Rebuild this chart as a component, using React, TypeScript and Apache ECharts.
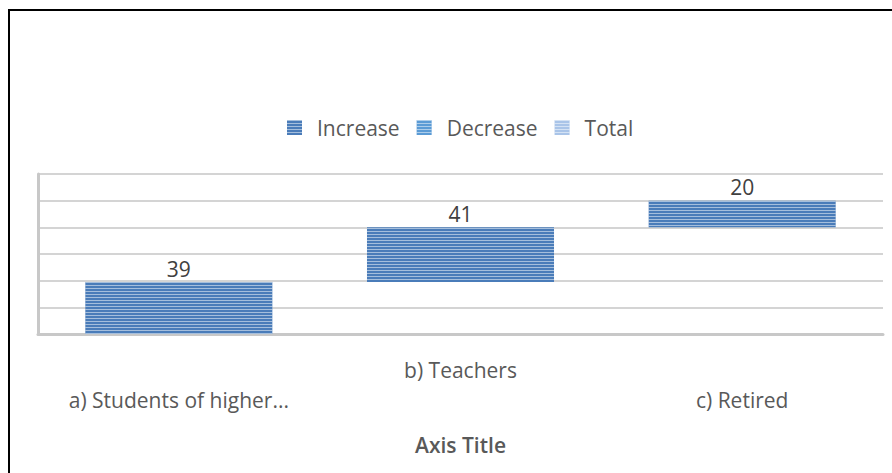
import React, { useEffect, useRef } from "react";
import * as echarts from "echarts";

const categories = ["a) Students of higher...", "b) Teachers", "c) Retired"];
const increaseValues = [39, 41, 20];
const decreaseValues: (number | string)[] = ["-", "-", "-"];
const totalValues: (number | string)[] = ["-", "-", "-"];
const legendNames = ["Increase", "Decrease", "Total"];

const FONT = "Open Sans";
const FS = 21;
const TEXT = "#595959";

function stripes(color: string) {
  return {
    symbol: "rect",
    symbolSize: 1,
    dashArrayX: [1, 0],
    dashArrayY: [1, 2],
    rotation: 0,
    color,
  };
}

export default function App() {
  const ref = useRef<HTMLDivElement>(null);
  useEffect(() => {
    if (!ref.current) return;
    const chart = echarts.init(ref.current, undefined, { renderer: "svg" });
    // waterfall base: cumulative sum of previous increases
    const base: number[] = [];
    let acc = 0;
    increaseValues.forEach((v) => {
      base.push(acc);
      acc += v;
    });
    chart.setOption({
      animation: false,
      aria: { enabled: true, decal: { show: true } },
      textStyle: { fontFamily: FONT },
      legend: {
        data: legendNames,
        left: 282,
        top: 112,
        itemWidth: 15,
        itemHeight: 15,
        itemGap: 17,
        icon: "rect",
        textStyle: { fontFamily: FONT, fontSize: FS, color: TEXT, padding: [0, 0, 0, 10] },
      },
      grid: { left: 38, right: 9, top: 174, bottom: 139, containLabel: false },
      xAxis: {
        type: "category",
        data: categories,
        axisLine: { show: true, lineStyle: { color: "#c8c8c8", width: 3 } },
        axisTick: { show: false },
        axisLabel: {
          margin: 26,
          interval: 0,
          formatter: (v: string, i: number) => (i === 1 ? `{hi|${v}}` : `{lo|${v}}`),
          rich: {
            hi: { fontFamily: FONT, fontSize: FS, color: TEXT, lineHeight: 20 },
            lo: { fontFamily: FONT, fontSize: FS, color: TEXT, lineHeight: 80 },
          },
        },
        name: "Axis Title",
        nameLocation: "middle",
        nameGap: 100,
        nameTextStyle: { fontFamily: FONT, fontSize: FS, color: TEXT, fontWeight: 600 },
      },
      yAxis: {
        type: "value",
        min: 0,
        max: 120,
        interval: 20,
        axisLabel: { show: false },
        axisTick: { show: false },
        axisLine: { show: true, lineStyle: { color: "#c8c8c8", width: 3 } },
        splitLine: { show: true, lineStyle: { color: "#c6c6c6", width: 1.5 } },
      },
      graphic: [
        {
          type: "rect",
          shape: { x: 9, y: 10, width: 1000, height: 1000 },
          style: { fill: "none", stroke: "#000", lineWidth: 2 },
          z: 100,
        },
      ],
      series: [
        {
          name: "base",
          type: "bar",
          stack: "w",
          silent: true,
          data: base,
          barCategoryGap: "33.6%",
          itemStyle: { color: "rgba(0,0,0,0)", decal: stripes("rgba(0,0,0,0)") },
          emphasis: { disabled: true },
        },
        {
          name: "Increase",
          type: "bar",
          stack: "w",
          data: increaseValues,
          itemStyle: { color: "#4a7cb9", decal: stripes("rgba(255,255,255,0.5)") },
          label: {
            show: true,
            position: "top",
            distance: 3,
            fontFamily: FONT,
            fontSize: FS,
            color: "#404040",
          },
        },
        {
          name: "Decrease",
          type: "bar",
          stack: "w",
          data: decreaseValues,
          itemStyle: { color: "#5b9bd5", decal: stripes("rgba(255,255,255,0.5)") },
        },
        {
          name: "Total",
          type: "bar",
          stack: "w",
          data: totalValues,
          itemStyle: { color: "#a9c4e8", decal: stripes("rgba(255,255,255,0.5)") },
        },
      ],
    });
    return () => chart.dispose();
  }, []);
  return (
    <div
      ref={ref}
      style={{ position: "absolute", left: 0, top: 0, width: 892, height: 473, background: "#fff" }}
    />
  );
}
